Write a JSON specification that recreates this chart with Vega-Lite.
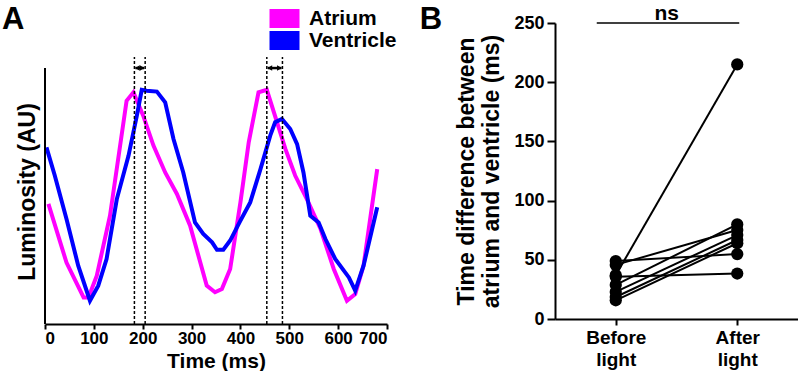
{
  "$schema": "https://vega.github.io/schema/vega-lite/v6.json",
  "padding": {"left": 2, "top": 3, "right": 0, "bottom": 0},
  "bounds": "flush",
  "spacing": 168,
  "config": {
    "view": {"stroke": null},
    "font": "Liberation Sans",
    "axis": {"grid": false, "domainColor": "black", "domainWidth": 2, "tickColor": "black", "tickWidth": 2, "labelColor": "black", "labelFont": "Liberation Sans", "labelFontWeight": "bold", "titleColor": "black", "titleFont": "Liberation Sans", "titleFontWeight": "bold"}
  },
  "hconcat": [
    {
      "width": 342,
      "height": 301,
      "layer": [
        {
          "data": {"values": [
            {"series": "Atrium", "time": 7, "lum": 46.9}, {"series": "Atrium", "time": 44, "lum": 24}, {"series": "Atrium", "time": 79, "lum": 10.4}, {"series": "Atrium", "time": 89, "lum": 10.4}, {"series": "Atrium", "time": 106, "lum": 18.9}, {"series": "Atrium", "time": 133, "lum": 42.3}, {"series": "Atrium", "time": 167, "lum": 87.2}, {"series": "Atrium", "time": 181, "lum": 90.5}, {"series": "Atrium", "time": 201, "lum": 81.4}, {"series": "Atrium", "time": 222, "lum": 69.7}, {"series": "Atrium", "time": 246, "lum": 59.2}, {"series": "Atrium", "time": 270, "lum": 50.8}, {"series": "Atrium", "time": 297, "lum": 38.4}, {"series": "Atrium", "time": 331, "lum": 15}, {"series": "Atrium", "time": 348, "lum": 12.4}, {"series": "Atrium", "time": 362, "lum": 13.7}, {"series": "Atrium", "time": 379, "lum": 21.5}, {"series": "Atrium", "time": 400, "lum": 47.5}, {"series": "Atrium", "time": 417, "lum": 71}, {"series": "Atrium", "time": 437, "lum": 90.5}, {"series": "Atrium", "time": 454, "lum": 91.5}, {"series": "Atrium", "time": 475, "lum": 78.8}, {"series": "Atrium", "time": 492, "lum": 68.4}, {"series": "Atrium", "time": 512, "lum": 58}, {"series": "Atrium", "time": 536, "lum": 48.8}, {"series": "Atrium", "time": 564, "lum": 37.1}, {"series": "Atrium", "time": 591, "lum": 21.5}, {"series": "Atrium", "time": 618, "lum": 9.1}, {"series": "Atrium", "time": 635, "lum": 11.7}, {"series": "Atrium", "time": 652, "lum": 22.8}, {"series": "Atrium", "time": 680, "lum": 60.5},
            {"series": "Ventricle", "time": 3, "lum": 69}, {"series": "Ventricle", "time": 20, "lum": 58}, {"series": "Ventricle", "time": 44, "lum": 41}, {"series": "Ventricle", "time": 68, "lum": 22.8}, {"series": "Ventricle", "time": 92, "lum": 9.1}, {"series": "Ventricle", "time": 109, "lum": 15}, {"series": "Ventricle", "time": 126, "lum": 25.4}, {"series": "Ventricle", "time": 147, "lum": 48.8}, {"series": "Ventricle", "time": 171, "lum": 65.8}, {"series": "Ventricle", "time": 188, "lum": 81.4}, {"series": "Ventricle", "time": 198, "lum": 91.5}, {"series": "Ventricle", "time": 208, "lum": 91.1}, {"series": "Ventricle", "time": 229, "lum": 90.8}, {"series": "Ventricle", "time": 246, "lum": 86.6}, {"series": "Ventricle", "time": 263, "lum": 72.3}, {"series": "Ventricle", "time": 283, "lum": 59.2}, {"series": "Ventricle", "time": 307, "lum": 39.7}, {"series": "Ventricle", "time": 324, "lum": 35.2}, {"series": "Ventricle", "time": 342, "lum": 31.9}, {"series": "Ventricle", "time": 352, "lum": 29}, {"series": "Ventricle", "time": 365, "lum": 29}, {"series": "Ventricle", "time": 379, "lum": 32.6}, {"series": "Ventricle", "time": 400, "lum": 40.4}, {"series": "Ventricle", "time": 420, "lum": 47.5}, {"series": "Ventricle", "time": 441, "lum": 60.5}, {"series": "Ventricle", "time": 461, "lum": 73.6}, {"series": "Ventricle", "time": 471, "lum": 78.8}, {"series": "Ventricle", "time": 485, "lum": 80.1}, {"series": "Ventricle", "time": 502, "lum": 76.2}, {"series": "Ventricle", "time": 516, "lum": 70.3}, {"series": "Ventricle", "time": 529, "lum": 59.2}, {"series": "Ventricle", "time": 543, "lum": 42.3}, {"series": "Ventricle", "time": 560, "lum": 39.7}, {"series": "Ventricle", "time": 574, "lum": 33.2}, {"series": "Ventricle", "time": 594, "lum": 25.4}, {"series": "Ventricle", "time": 622, "lum": 18.2}, {"series": "Ventricle", "time": 635, "lum": 13}, {"series": "Ventricle", "time": 652, "lum": 22.8}, {"series": "Ventricle", "time": 680, "lum": 45.6}
          ]},
          "mark": {"type": "line", "strokeWidth": 4},
          "encoding": {
            "x": {"field": "time", "type": "quantitative", "scale": {"domain": [0, 700], "nice": false}, "axis": {"title": "Time (ms)", "values": [0, 100, 200, 300, 400, 500, 600, 700], "labelFontSize": 17, "tickSize": 5, "labelPadding": 1, "titleFontSize": 21, "titlePadding": 4}},
            "y": {"field": "lum", "type": "quantitative", "scale": {"domain": [0, 117.6], "nice": false}, "axis": {"title": "Luminosity (AU)", "domain": false, "ticks": false, "labels": false, "titleFontSize": 23, "titlePadding": 6, "titleY": 168.5}},
            "color": {"field": "series", "type": "nominal", "scale": {"domain": ["Atrium", "Ventricle"], "range": ["#ff00ff", "#0000ff"]},
              "legend": {"orient": "none", "legendX": 229, "legendY": -15, "title": null, "padding": 0, "symbolType": "M-1.5,-0.95H1.5V0.95H-1.5Z", "symbolSize": 400, "symbolStrokeWidth": 0, "labelFontSize": 21, "labelFontWeight": "bold", "labelFont": "Liberation Sans", "labelColor": "black", "labelOffset": 14, "rowPadding": 0,
                "encode": {"symbols": {"update": {"fill": {"scale": "color", "field": "value"}, "opacity": {"value": 1}}}}}}
          }
        },
        {
          "data": {"values": [{"time": 0, "lum": 0, "lum2": 100}]},
          "mark": {"type": "rule", "strokeWidth": 2, "color": "black"},
          "encoding": {"x": {"field": "time", "type": "quantitative"}, "y": {"field": "lum", "type": "quantitative"}, "y2": {"field": "lum2"}}
        },
        {
          "data": {"values": [{"time": 183, "lum": 0, "lum2": 104.3}, {"time": 205, "lum": 0, "lum2": 104.3}, {"time": 454, "lum": 0, "lum2": 104.3}, {"time": 486, "lum": 0, "lum2": 104.3}]},
          "mark": {"type": "rule", "strokeWidth": 1.5, "color": "black", "strokeDash": [3, 2]},
          "encoding": {"x": {"field": "time", "type": "quantitative"}, "y": {"field": "lum", "type": "quantitative"}, "y2": {"field": "lum2"}}
        },
        {
          "data": {"values": [{"time": 185, "time2": 203, "lum": 100}, {"time": 456, "time2": 484, "lum": 100}]},
          "mark": {"type": "rule", "strokeWidth": 2.5, "color": "black"},
          "encoding": {"x": {"field": "time", "type": "quantitative"}, "x2": {"field": "time2"}, "y": {"field": "lum", "type": "quantitative"}}
        },
        {
          "data": {"values": [{"time": 183, "lum": 100}, {"time": 454, "lum": 100}]},
          "mark": {"type": "point", "shape": "triangle-left", "filled": true, "color": "black", "size": 30, "opacity": 1, "xOffset": 3},
          "encoding": {"x": {"field": "time", "type": "quantitative"}, "y": {"field": "lum", "type": "quantitative"}}
        },
        {
          "data": {"values": [{"time": 205, "lum": 100}, {"time": 486, "lum": 100}]},
          "mark": {"type": "point", "shape": "triangle-right", "filled": true, "color": "black", "size": 30, "opacity": 1, "xOffset": -3},
          "encoding": {"x": {"field": "time", "type": "quantitative"}, "y": {"field": "lum", "type": "quantitative"}}
        },
        {
          "data": {"values": [{"time": 0, "lum": 115.2, "label": "A"}]},
          "mark": {"type": "text", "fontSize": 31, "fontWeight": "bold", "font": "Liberation Sans", "color": "black", "align": "left", "baseline": "alphabetic", "dx": -43},
          "encoding": {"x": {"field": "time", "type": "quantitative"}, "y": {"field": "lum", "type": "quantitative"}, "text": {"field": "label"}}
        }
      ]
    },
    {
      "width": 243,
      "height": 296,
      "data": {"values": [
        {"id": 1, "cond": "Before light", "val": 48.9}, {"id": 1, "cond": "After light", "val": 54.8},
        {"id": 2, "cond": "Before light", "val": 45.7}, {"id": 2, "cond": "After light", "val": 75.1},
        {"id": 3, "cond": "Before light", "val": 37}, {"id": 3, "cond": "After light", "val": 215},
        {"id": 4, "cond": "Before light", "val": 35.6}, {"id": 4, "cond": "After light", "val": 38.4},
        {"id": 5, "cond": "Before light", "val": 28.8}, {"id": 5, "cond": "After light", "val": 79.9},
        {"id": 6, "cond": "Before light", "val": 22.9}, {"id": 6, "cond": "After light", "val": 70.9},
        {"id": 7, "cond": "Before light", "val": 18.6}, {"id": 7, "cond": "After light", "val": 66.7},
        {"id": 8, "cond": "Before light", "val": 15.8}, {"id": 8, "cond": "After light", "val": 64}
      ]},
      "layer": [
        {
          "mark": {"type": "line", "color": "black", "strokeWidth": 2},
          "encoding": {
            "x": {"field": "cond", "type": "nominal", "sort": ["Before light", "After light"], "scale": {"type": "point", "padding": 0.5}, "axis": {"title": null, "labelAngle": 0, "labelExpr": "split(datum.label, ' ')", "labelFontSize": 19, "labelLineHeight": 22, "tickSize": 6, "labelPadding": 3}},
            "y": {"field": "val", "type": "quantitative", "scale": {"domain": [0, 250], "nice": false}, "axis": {"title": ["Time difference between", "atrium and ventricle (ms)"], "titleFontSize": 23, "titleLineHeight": 25, "titlePadding": 10, "values": [0, 50, 100, 150, 200, 250], "labelFontSize": 18, "tickSize": 8, "labelPadding": 3}},
            "detail": {"field": "id", "type": "nominal"}
          }
        },
        {
          "mark": {"type": "point", "filled": true, "color": "black", "size": 150, "opacity": 1},
          "encoding": {"x": {"field": "cond", "type": "nominal", "sort": ["Before light", "After light"]}, "y": {"field": "val", "type": "quantitative"}}
        },
        {
          "data": {"values": [{"cond": "Before light", "cond2": "After light", "val": 250, "label": "ns"}]},
          "mark": {"type": "rule", "color": "black", "strokeWidth": 1.5, "xOffset": -19, "x2Offset": 2},
          "encoding": {"x": {"field": "cond", "type": "nominal", "sort": ["Before light", "After light"]}, "x2": {"field": "cond2"}, "y": {"field": "val", "type": "quantitative"}}
        },
        {
          "data": {"values": [{"cond": "Before light", "cond2": "After light", "val": 250, "label": "ns"}]},
          "mark": {"type": "text", "fontSize": 21, "fontWeight": "bold", "color": "black", "font": "Liberation Sans", "baseline": "alphabetic", "dx": 51, "dy": -3},
          "encoding": {"x": {"field": "cond", "type": "nominal", "sort": ["Before light", "After light"]}, "y": {"field": "val", "type": "quantitative"}, "text": {"field": "label"}}
        },
        {
          "data": {"values": [{"cond": "Before light", "val": 244.9, "label": "B"}]},
          "mark": {"type": "text", "fontSize": 31, "fontWeight": "bold", "font": "Liberation Sans", "color": "black", "align": "left", "baseline": "alphabetic", "dx": -196},
          "encoding": {"x": {"field": "cond", "type": "nominal", "sort": ["Before light", "After light"]}, "y": {"field": "val", "type": "quantitative"}, "text": {"field": "label"}}
        }
      ]
    }
  ]
}
